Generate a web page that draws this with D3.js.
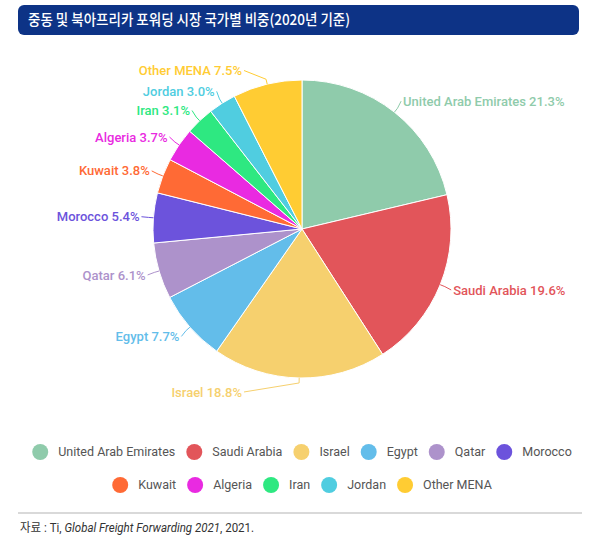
<!DOCTYPE html>
<html>
<head>
<meta charset="utf-8">
<script src="https://cdn.jsdelivr.net/npm/d3@7"></script>
<style>
  body { margin: 0; background: #fff; }
  svg { display: block; font-family: Roboto, "Noto Sans CJK KR", sans-serif; }
</style>
</head>
<body>
<svg id="chart" width="608" height="537"></svg>
<script>
// data
const countries = ['United Arab Emirates', 'Saudi Arabia', 'Israel', 'Egypt', 'Qatar', 'Morocco',
  'Kuwait', 'Algeria', 'Iran', 'Jordan', 'Other MENA'];
const shares = [21.3, 19.6, 18.8, 7.7, 6.1, 5.4, 3.8, 3.7, 3.1, 3.0, 7.5];
const colors = ['#8fcbab', '#e2555a', '#f6d06e', '#63bdea', '#ad92cb', '#6c53dc',
  '#ff6a35', '#e92ae1', '#2ee881', '#50cde0', '#ffcc33'];

const titleText = '중동 및 북아프리카 포워딩 시장 국가별 비중(2020년 기준)';

const svg = d3.select('#chart');

// Title bar
svg.append('rect')
  .attr('x', 18).attr('y', 5).attr('width', 561).attr('height', 30)
  .attr('rx', 6).attr('fill', '#0d3386');
svg.append('text')
  .attr('transform', 'translate(28,20) scale(0.9,1)')
  .attr('dy', '0.35em')
  .attr('fill', '#fff').attr('font-size', 15).attr('font-weight', 500)
  .attr('font-family', '"Noto Sans CJK KR", sans-serif')
  .text(titleText);

// Pie
const cx = 302, cy = 229, r = 149;
const data = countries.map((c, i) => ({ name: c, value: shares[i], color: colors[i] }));
const pie = d3.pie().value(d => d.value).sort(null);
const arc = d3.arc().innerRadius(0).outerRadius(r);
const arcs = pie(data);

const g = svg.append('g').attr('transform', `translate(${cx},${cy})`);

g.selectAll('path.slice')
  .data(arcs)
  .enter()
  .append('path')
  .attr('class', 'slice')
  .attr('d', arc)
  .attr('fill', d => d.data.color)
  .attr('stroke', '#fff')
  .attr('stroke-width', 1);

// Labels with leader lines
const labelR = r + 14;
const minDx = 60;
arcs.forEach(d => {
  const a = (d.startAngle + d.endAngle) / 2;
  const sx = Math.sin(a), sy = -Math.cos(a);
  const left = sx < 0;
  let lx = labelR * sx;
  const ly = labelR * sy;
  if (Math.abs(lx) < minDx) lx = left ? -minDx : minDx;
  const p0 = [r * sx, r * sy];
  const p1 = [(r + 5) * sx, (r + 5) * sy];
  const p2 = [lx + (left ? 2 : -2), ly];
  g.append('polyline')
    .attr('points', [p0, p1, p2].map(p => p.join(',')).join(' '))
    .attr('fill', 'none')
    .attr('stroke', d.data.color)
    .attr('stroke-width', 1);
  g.append('text')
    .attr('x', lx).attr('y', ly).attr('dy', '0.35em')
    .attr('text-anchor', left ? 'end' : 'start')
    .attr('fill', d.data.color)
    .attr('font-size', 13).attr('font-weight', 500)
    .text(`${d.data.name} ${d3.format('.1f')(d.data.value)}%`);
});

// Legend: flow layout, centered rows under the pie
const legendCenter = cx, legendMaxW = 560, rowY = [452, 485];
const itemGap = 11, dotR = 8, dotGap = 10, legendFont = 12.5;
const measure = svg.append('text').attr('font-size', legendFont).attr('visibility', 'hidden');
const items = countries.map((c, i) => {
  measure.text(c);
  const tw = measure.node().getComputedTextLength();
  return { name: c, color: colors[i], w: dotR * 2 + dotGap + tw };
});
measure.remove();

const rows = [[]];
let rowW = 0;
items.forEach(it => {
  const add = (rows[rows.length - 1].length ? itemGap : 0) + it.w;
  if (rowW + add > legendMaxW && rows[rows.length - 1].length) {
    rows.push([it]);
    rowW = it.w;
  } else {
    rows[rows.length - 1].push(it);
    rowW += add;
  }
});

const legend = svg.append('g');
rows.forEach((row, ri) => {
  const total = d3.sum(row, d => d.w) + itemGap * (row.length - 1);
  let x = legendCenter - total / 2;
  row.forEach(it => {
    legend.append('circle')
      .attr('cx', x + dotR).attr('cy', rowY[ri]).attr('r', dotR)
      .attr('fill', it.color);
    legend.append('text')
      .attr('x', x + dotR * 2 + dotGap).attr('y', rowY[ri]).attr('dy', '0.35em')
      .attr('font-size', legendFont).attr('fill', '#555')
      .text(it.name);
    x += it.w + itemGap;
  });
});

// Separator and source note
svg.append('line')
  .attr('x1', 18).attr('x2', 582).attr('y1', 513).attr('y2', 513)
  .attr('stroke', '#cccccc').attr('stroke-width', 1.5);

const src = svg.append('text')
  .attr('transform', 'translate(20,528) scale(0.96,1)')
  .attr('dy', '0.35em')
  .attr('font-size', 12).attr('fill', '#333');
src.append('tspan').text('자료 : Ti, ');
src.append('tspan').attr('font-style', 'italic').text('Global Freight Forwarding 2021');
src.append('tspan').text(', 2021.');
</script>
</body>
</html>
